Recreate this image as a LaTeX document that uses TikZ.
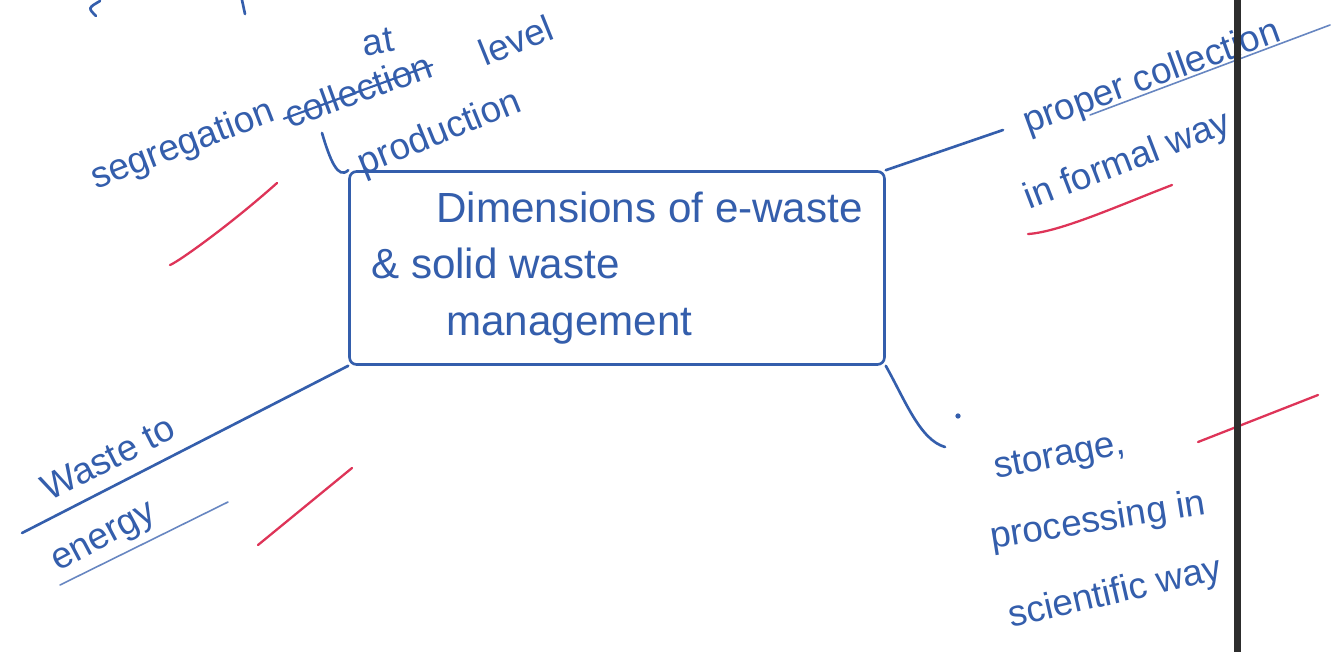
\documentclass[tikz,border=0pt]{standalone}
\usepackage{fontspec}
\setmainfont{Liberation Sans}
\usepackage{tikz}
\usetikzlibrary{calc}
\definecolor{inkblue}{RGB}{52,94,172}
\definecolor{tickred}{RGB}{222,52,88}
\definecolor{edgegray}{RGB}{45,45,45}

\begin{document}
\begin{tikzpicture}[
  x=0.02cm, y=-0.02cm,
  ink/.style={draw=inkblue, line width=1.5pt, line cap=round},
  thinink/.style={draw=inkblue!75, line width=0.9pt, line cap=round},
  tick/.style={draw=tickred, line width=1.3pt, line cap=round},
  label/.style={text=inkblue, inner sep=1pt, font=\fontsize{21}{25}\selectfont},
  mainbox/.style={rectangle, rounded corners=4pt, draw=inkblue, line width=1.5pt, text=inkblue, align=left, minimum width=10.7cm, minimum height=3.86cm, font=\fontsize{24}{32}\selectfont}
]
\useasboundingbox[fill=white] (0,0) rectangle (1337,652);

\node[mainbox] (dims) at (617,268) {\hspace*{1.3cm}Dimensions of e-waste\\\& solid waste\\\hspace*{1.5cm}management};

\node[label, rotate=21] (segr) at (183,146) {segregation};
\node[label, rotate=10] (segat) at (378,42) {at};
\node[label, rotate=20] (segcoll) at (358,90) {collection};
\node[label, rotate=22] (seglev) at (516,40) {level};
\node[label, rotate=22] (segprod) at (440,134) {production};
\node[label, rotate=20] (propA) at (1152,78) {proper collection};
\node[label, rotate=21] (propB) at (1128,162) {in formal way};
\node[label, rotate=27] (wasteA) at (108,458) {Waste to};
\node[label, rotate=28] (wasteB) at (105,540) {energy};
\node[label, rotate=11] (storA) at (1060,458) {storage,};
\node[label, rotate=9] (storB) at (1098,522) {processing in};
\node[label, rotate=13] (storC) at (1115,594) {scientific way};

\draw[ink, line width=1.2pt] ([yshift=-1pt]segcoll.west) -- ([yshift=-1pt]segcoll.east);

\coordinate (segend) at (322,133);
\coordinate (propend) at (1003,130);
\coordinate (wasteend) at (22,533);
\coordinate (storend) at (945,447);

\draw[ink] (segend) .. controls (330,160) and (338,180) .. (dims.north west);
\draw[ink] (dims.north east) -- (propend);
\draw[ink] (dims.south west) -- (wasteend);
\draw[ink] (dims.south east) .. controls (905,400) and (920,440) .. (storend);
\fill[inkblue] (958,416) circle (1.5pt);

\draw[thinink] (1090,115) -- (1330,25);
\draw[thinink] (60,585) -- (228,502);

\draw[ink] (100,1) .. controls (88,8) .. (96,16);
\draw[ink] (242,0) -- (245,14);

\draw[tick] (170,265) .. controls (178,262) and (230,225) .. (277,183);
\draw[tick] (1028,234) .. controls (1060,232) and (1120,205) .. (1172,185);
\draw[tick] (258,545) -- (352,468);
\draw[tick] (1198,442) -- (1318,395);

\fill[edgegray] (1234,0) rectangle (1241,652);
\end{tikzpicture}
\end{document}
